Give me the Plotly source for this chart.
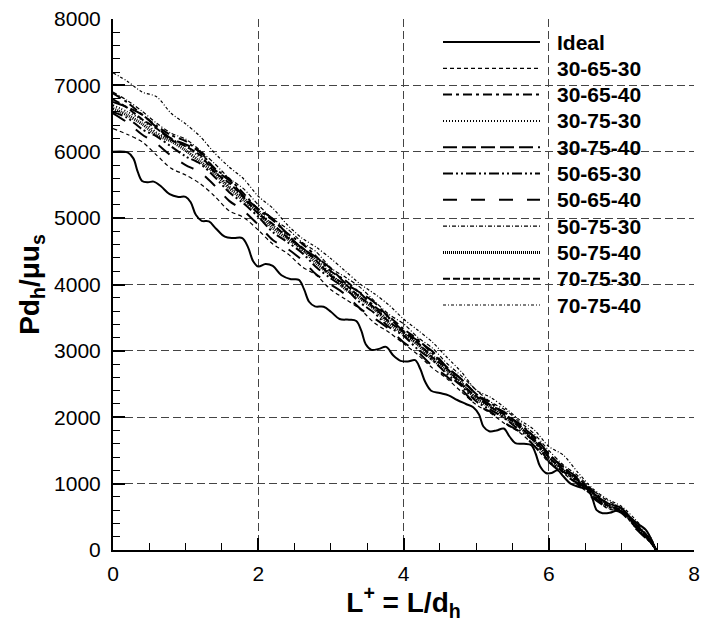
import plotly.graph_objects as go

# shared L+ grid for the rib-configuration curves
L_grid = [0.0, 0.2, 0.4, 0.6, 0.8, 1.0, 1.2, 1.4, 1.6, 1.8, 2.0, 2.2, 2.4, 2.6, 2.8,
          3.0, 3.2, 3.4, 3.6, 3.8, 4.0, 4.2, 4.4, 4.6, 4.8, 5.0, 5.2, 5.4, 5.6, 5.8,
          6.0, 6.2, 6.4, 6.6, 6.8, 7.0, 7.2, 7.4, 7.48]

ideal_L = [0, 0.20, 0.28, 0.34, 0.40, 0.48, 0.56, 0.66, 0.78, 0.90, 1.00, 1.07, 1.14, 1.22,
           1.32, 1.42, 1.54, 1.66, 1.78, 1.86, 1.93, 2.00, 2.10, 2.20, 2.32, 2.45, 2.56, 2.63,
           2.70, 2.78, 2.90, 3.00, 3.12, 3.25, 3.35, 3.42, 3.48, 3.56, 3.66, 3.76, 3.86, 3.96,
           4.06, 4.16, 4.23, 4.30, 4.38, 4.50, 4.62, 4.74, 4.86, 4.96, 5.04, 5.10, 5.18, 5.28,
           5.38, 5.46, 5.54, 5.66, 5.76, 5.82, 5.88, 5.96, 6.04, 6.12, 6.20, 6.30, 6.42, 6.54,
           6.60, 6.66, 6.74, 6.84, 6.96, 7.04, 7.14, 7.26, 7.34, 7.42, 7.47]
ideal_P = [6000, 5990, 5900, 5700, 5560, 5540, 5550, 5480, 5360, 5320, 5320, 5240, 5050, 4960,
           4950, 4840, 4720, 4700, 4700, 4560, 4350, 4270, 4310, 4280, 4140, 4080, 4070, 3930,
           3740, 3670, 3665, 3590, 3480, 3470, 3450, 3300, 3100, 3015, 3030, 3060, 2930, 2850,
           2840, 2860, 2730, 2530, 2400, 2365, 2330, 2260, 2200, 2150, 2040, 1860, 1790, 1800,
           1830, 1710, 1610, 1600, 1580, 1450, 1260, 1160, 1160, 1200, 1110, 1000, 950, 910,
           780, 600, 555, 560, 600, 560, 470, 370, 300, 140, 0]

p_30_65_30 = [6350, 6260, 6150, 5950, 5750, 5650, 5520, 5330, 5110, 5010, 4820, 4610, 4470, 4270,
              4140, 3920, 3780, 3630, 3420, 3280, 3110, 2940, 2740, 2580, 2380, 2190, 2060, 1900,
              1770, 1570, 1320, 1160, 980, 820, 630, 570, 340, 110, 0]
p_30_65_40 = [6880, 6740, 6560, 6390, 6250, 6160, 5990, 5750, 5590, 5370, 5130, 4970, 4770, 4620,
              4420, 4200, 4060, 3870, 3670, 3520, 3330, 3170, 2960, 2750, 2570, 2350, 2220, 2040,
              1900, 1700, 1440, 1250, 1070, 900, 710, 630, 390, 140, 0]
p_30_75_30 = [6700, 6600, 6480, 6290, 6190, 6090, 5910, 5710, 5480, 5310, 5120, 4890, 4730, 4520,
              4380, 4160, 3960, 3830, 3630, 3480, 3270, 3100, 2930, 2710, 2520, 2290, 2180, 2010,
              1860, 1650, 1400, 1210, 1050, 850, 690, 590, 370, 120, 0]
p_30_75_40 = [6750, 6670, 6560, 6370, 6200, 6110, 6000, 5730, 5570, 5330, 5140, 4990, 4760, 4550,
              4410, 4240, 4020, 3880, 3730, 3500, 3300, 3150, 2990, 2750, 2570, 2350, 2180, 2070,
              1880, 1710, 1450, 1240, 1090, 870, 710, 630, 380, 160, 0]
p_50_65_30 = [6600, 6510, 6340, 6230, 6080, 5930, 5820, 5620, 5390, 5220, 5020, 4790, 4640, 4480,
              4260, 4090, 3940, 3730, 3570, 3360, 3230, 3020, 2860, 2650, 2470, 2240, 2110, 1980,
              1800, 1640, 1340, 1180, 1030, 820, 660, 580, 340, 120, 0]
p_50_65_40 = [6580, 6440, 6260, 6120, 5940, 5800, 5690, 5490, 5260, 5110, 4900, 4670, 4540, 4370,
              4150, 4000, 3850, 3640, 3490, 3330, 3130, 2980, 2770, 2610, 2420, 2190, 2080, 1910,
              1780, 1570, 1330, 1140, 1000, 790, 640, 560, 320, 110, 0]
p_50_75_30 = [6900, 6770, 6610, 6430, 6280, 6190, 6020, 5820, 5600, 5440, 5200, 4990, 4840, 4640,
              4490, 4250, 4110, 3960, 3750, 3550, 3410, 3200, 3040, 2810, 2620, 2410, 2230, 2110,
              1930, 1750, 1500, 1280, 1120, 910, 750, 630, 410, 160, 0]
p_50_75_40 = [6650, 6550, 6420, 6250, 6160, 6020, 5850, 5680, 5450, 5270, 5080, 4850, 4690, 4540,
              4320, 4140, 3930, 3790, 3630, 3410, 3260, 3090, 2870, 2700, 2510, 2280, 2150, 1990,
              1850, 1640, 1380, 1200, 1040, 860, 660, 590, 350, 130, 0]
p_70_75_30 = [6790, 6660, 6490, 6350, 6180, 6080, 5950, 5690, 5530, 5310, 5070, 4910, 4710, 4560,
              4360, 4130, 4000, 3810, 3650, 3440, 3290, 3120, 2900, 2730, 2490, 2320, 2150, 2030,
              1850, 1670, 1400, 1210, 1050, 870, 680, 600, 360, 130, 0]
p_70_75_40 = [7190, 7060, 6900, 6830, 6580, 6420, 6230, 5980, 5770, 5590, 5330, 5150, 4900, 4700,
              4560, 4390, 4200, 4010, 3860, 3690, 3480, 3310, 3130, 2900, 2680, 2410, 2300, 2140,
              1960, 1810, 1560, 1430, 1170, 930, 770, 660, 450, 200, 0]

series_names = ["30-65-30", "30-65-40", "30-75-30", "30-75-40", "50-65-30",
                "50-65-40", "50-75-30", "50-75-40", "70-75-30", "70-75-40"]
series_values = [p_30_65_30, p_30_65_40, p_30_75_30, p_30_75_40, p_50_65_30,
                 p_50_65_40, p_50_75_30, p_50_75_40, p_70_75_30, p_70_75_40]
series_styles = [
    ("4px,3px", 1.2),
    ("9px,4px,3px,4px", 2),
    ("1px,2px", 2),
    ("14px,5px", 2),
    ("10px,3px,2px,3px,2px,3px", 2),
    ("14px,14px", 2),
    ("4px,2px,1px,2px", 1.2),
    ("1px,1px", 3),
    ("7px,3px", 2),
    ("3px,2px,1px,2px", 1.2),
]

FONT = "Liberation Sans, Arial, sans-serif"

fig = go.Figure()
fig.add_trace(go.Scatter(x=ideal_L, y=ideal_P, mode="lines", name="Ideal",
                         line=dict(color="black", width=2, shape="spline", smoothing=1.0)))
for name, vals, (dash, w) in zip(series_names, series_values, series_styles):
    fig.add_trace(go.Scatter(x=L_grid, y=vals, mode="lines", name=name,
                             line=dict(color="black", width=w, dash=dash,
                                       shape="spline", smoothing=0.8)))

# legend drawn in the upper right (paper coordinates of the plot area)
plot_l, plot_r, plot_t, plot_b = 113, 694, 19, 550
def px_x(p):
    return (p - plot_l) / (plot_r - plot_l)
def px_y(p):
    return (plot_b - p) / (plot_b - plot_t)

legend_names = ["Ideal"] + series_names
legend_styles = [("solid", 2)] + series_styles
row0, row_step = 42, 26.3
for i, (name, (dash, w)) in enumerate(zip(legend_names, legend_styles)):
    yy = px_y(row0 + i * row_step)
    fig.add_shape(type="line", xref="paper", yref="paper",
                  x0=px_x(443), x1=px_x(540), y0=yy, y1=yy,
                  line=dict(color="black", width=w, dash=dash))
    fig.add_annotation(xref="paper", yref="paper", x=px_x(555), y=yy,
                       xanchor="left", yanchor="middle", showarrow=False,
                       text="<b>" + name + "</b>",
                       font=dict(family=FONT, size=21, color="black"))

tick_font = dict(family=FONT, size=21, color="black")
grid_kw = dict(showgrid=True, gridcolor="#444444", gridwidth=1, griddash="8px,4px")

fig.update_layout(
    width=701, height=622,
    margin=dict(l=plot_l, r=701 - plot_r, t=plot_t, b=622 - plot_b, autoexpand=False),
    paper_bgcolor="white", plot_bgcolor="white",
    showlegend=False,
    xaxis=dict(range=[0, 8], dtick=2, tick0=0, showline=True, linecolor="black",
               linewidth=2, ticks="inside", ticklen=12, tickwidth=2, tickcolor="black",
               tickfont=tick_font, zeroline=False, ticklabelstandoff=4,
               minor=dict(dtick=0.5, ticks="inside", ticklen=7, tickwidth=1,
                          tickcolor="black", showgrid=False),
               title=dict(text="<b>L<sup>+</sup> = L/d<sub>h</sub></b>",
                          font=dict(family=FONT, size=28, color="black"), standoff=6),
               **grid_kw),
    yaxis=dict(range=[0, 8000], dtick=1000, tick0=0, showline=True, linecolor="black",
               linewidth=2, ticks="inside", ticklen=12, tickwidth=2, tickcolor="black",
               tickfont=tick_font, zeroline=False, ticklabelstandoff=6,
               minor=dict(dtick=200, ticks="inside", ticklen=7, tickwidth=1,
                          tickcolor="black", showgrid=False),
               title=dict(text="<b>Pd<sub>h</sub>/μu<sub>s</sub></b>",
                          font=dict(family=FONT, size=28, color="black"), standoff=6),
               **grid_kw),
)

fig.write_html("out.html")
